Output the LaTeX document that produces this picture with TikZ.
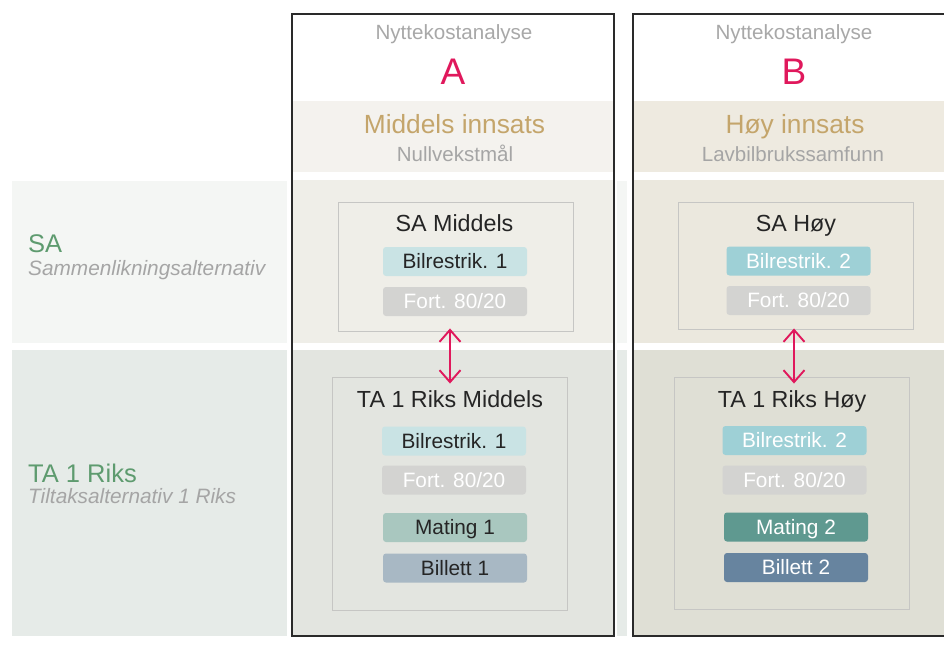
\documentclass[tikz,border=0pt]{standalone}
\usepackage{fontspec}
\setmainfont{Liberation Sans}
\usetikzlibrary{arrows.meta}
\definecolor{framec}{HTML}{2A2A2A}
\definecolor{crim}{HTML}{E0185C}
\definecolor{gold}{HTML}{C4A56B}
\definecolor{hgray}{HTML}{A8A8A8}
\definecolor{lgreen}{HTML}{5E9B6F}
\definecolor{igray}{HTML}{A5A5A5}
\definecolor{darkt}{HTML}{252525}
\definecolor{headA}{HTML}{F4F2EE}
\definecolor{headB}{HTML}{EEEAE0}
\definecolor{saL}{HTML}{F4F6F4}
\definecolor{saA}{HTML}{EFEEE8}
\definecolor{saB}{HTML}{EBE8DE}
\definecolor{taL}{HTML}{E6EBE8}
\definecolor{taA}{HTML}{E3E5E0}
\definecolor{taB}{HTML}{DFDFD5}
\definecolor{boxc}{HTML}{C6C6C4}
\definecolor{bil1}{HTML}{C9E3E4}
\definecolor{bil2}{HTML}{9ED0D6}
\definecolor{fortc}{HTML}{D3D3D1}
\definecolor{mat1}{HTML}{A9C7BF}
\definecolor{bil1t}{HTML}{A8B8C4}
\definecolor{mat2}{HTML}{5F9990}
\definecolor{bil2t}{HTML}{67849F}
\tikzset{
  frame/.style={draw=framec, line width=2pt},
  inbox/.style={draw=boxc, line width=0.9pt, inner sep=0pt},
  pill/.style={rounded corners=3pt, minimum width=144pt, minimum height=29pt, inner sep=0pt,
    text height=14.9pt, text depth=0pt, font=\fontsize{20.8}{24}\selectfont},
  darkpill/.style={pill, text=darkt},
  lightpill/.style={pill, text=white},
  boxtitle/.style={anchor=base, inner sep=0pt, text=darkt, font=\fontsize{23.3}{27}\selectfont},
  nkast/.style={anchor=base, inner sep=0pt, text=hgray, font=\fontsize{20.6}{24}\selectfont},
  letter/.style={anchor=base, inner sep=0pt, text=crim, font=\fontsize{37}{40}\selectfont},
  effort/.style={anchor=base, inner sep=0pt, text=gold, font=\fontsize{26.3}{30}\selectfont},
  effsub/.style={anchor=base, inner sep=0pt, text=igray, font=\fontsize{20.5}{24}\selectfont},
  rowlab/.style={anchor=base west, inner sep=0pt, text=lgreen, font=\fontsize{25.5}{29}\selectfont},
  rowsub/.style={anchor=base west, inner sep=0pt, text=igray, font=\fontsize{20.8}{24}\selectfont\itshape},
  arr/.style={draw=crim, line width=1.9pt, {Straight Barb[length=12pt,width=21pt]}-{Straight Barb[length=12pt,width=21pt]}}
}
\begin{document}
\begin{tikzpicture}[x=1pt,y=-1pt]
\useasboundingbox (0,0) rectangle (944,658);
\fill[white] (0,0) rectangle (944,658);
% bands
\fill[saL] (12,181) rectangle (287,343);
\fill[taL] (12,350) rectangle (287,636);
\fill[saL] (617,181) rectangle (627,343);
\fill[taL] (617,350) rectangle (627,636);
\fill[headA] (292,101) rectangle (614,172);
\fill[headB] (633,101) rectangle (944,172);
\fill[saA] (292,180) rectangle (614,343);
\fill[saB] (633,180) rectangle (944,343);
\fill[taA] (292,350) rectangle (614,636);
\fill[taB] (633,350) rectangle (944,636);
% frames
\draw[frame] (292,14) rectangle (614,636);
\draw[frame] (946,14) -- (633,14) -- (633,636) -- (946,636);
% row labels
\node[rowlab] (lsa) at (28,252) {SA};
\node[rowsub] (lsas) at (28,275) {Sammenlikningsalternativ};
\node[rowlab] (lta) at (28,482) {TA 1 Riks};
\node[rowsub] (ltas) at (28,503) {Tiltaksalternativ 1 Riks};
% column headers
\node[nkast] (nkA) at (454,40) {Nyttekostanalyse};
\node[nkast] (nkB) at (794,40) {Nyttekostanalyse};
\node[letter] (lA) at (453,85) {A};
\node[letter] (lB) at (794,85) {B};
\node[effort] (eA) at (454.5,133) {Middels innsats};
\node[effort] (eB) at (795,133) {Høy innsats};
\node[effsub] (sA) at (455,161) {Nullvekstmål};
\node[effsub] (sB) at (793,161) {Lavbilbrukssamfunn};
% inner boxes
\node[inbox, minimum width=235pt, minimum height=129pt] (samid) at (455.5,266.5) {};
\node[inbox, minimum width=235pt, minimum height=233pt] (tamid) at (449.5,493.5) {};
\node[inbox, minimum width=235pt, minimum height=127pt] (sahoy) at (795.5,265.5) {};
\node[inbox, minimum width=235pt, minimum height=232pt] (tahoy) at (791.5,493) {};
% titles
\node[boxtitle] (tsamid) at (454.5,231) {SA Middels};
\node[boxtitle] (ttamid) at (450,407) {TA 1 Riks Middels};
\node[boxtitle] (tsahoy) at (796,231) {SA Høy};
\node[boxtitle] (ttahoy) at (792,407) {TA 1 Riks Høy};
% pills A
\node[darkpill, fill=bil1] (pa1) at (455,261.5) {Bilrestrik. 1};
\node[lightpill, fill=fortc] (pa2) at (455,301.5) {Fort. 80/20};
\node[darkpill, fill=bil1] (pa3) at (454,441) {Bilrestrik. 1};
\node[lightpill, fill=fortc] (pa4) at (454,480) {Fort. 80/20};
\node[darkpill, fill=mat1] (pa5) at (455,527.5) {Mating 1};
\node[darkpill, fill=bil1t] (pa6) at (455,568) {Billett 1};
% pills B
\node[lightpill, fill=bil2] (pb1) at (798.5,261) {Bilrestrik. 2};
\node[lightpill, fill=fortc] (pb2) at (798.5,300.5) {Fort. 80/20};
\node[lightpill, fill=bil2] (pb3) at (794.5,440.5) {Bilrestrik. 2};
\node[lightpill, fill=fortc] (pb4) at (794.5,480) {Fort. 80/20};
\node[lightpill, fill=mat2] (pb5) at (796,527) {Mating 2};
\node[lightpill, fill=bil2t] (pb6) at (796,567.5) {Billett 2};
% arrows
\draw[arr] ([yshift=3pt]samid.south -| 450,0) -- ([yshift=-7pt]tamid.north -| 450,0);
\draw[arr] ([yshift=1pt]sahoy.south -| 794,0) -- ([yshift=-7pt]tahoy.north -| 794,0);
\end{tikzpicture}
\end{document}
